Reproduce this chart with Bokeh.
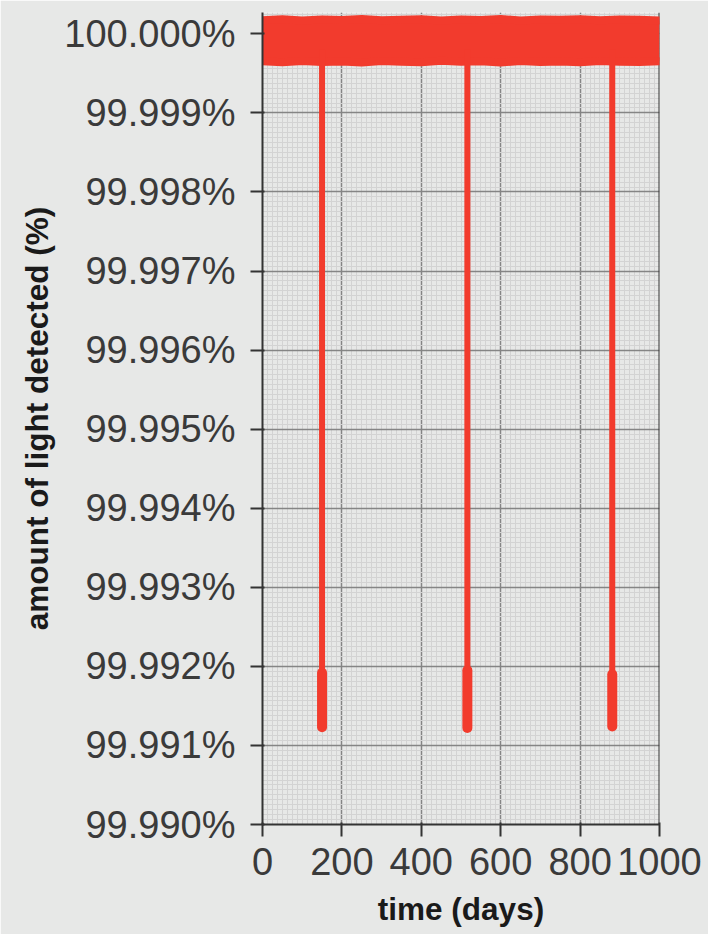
from bokeh.plotting import figure
from bokeh.models import Range1d, FixedTicker, PrintfTickFormatter, Span
from bokeh.embed import file_html
from bokeh.resources import INLINE

# ---- data ----
band_days = [0, 50, 100, 150, 200, 250, 300, 350, 400, 450, 500,
             550, 600, 650, 700, 750, 800, 850, 900, 950, 1000]
band_upper = [100.000172, 100.000184, 100.000169, 100.000181, 100.000176, 100.000188, 100.000171,
              100.000179, 100.000185, 100.000168, 100.000182, 100.000175, 100.000187, 100.000170,
              100.000180, 100.000177, 100.000186, 100.000173, 100.000183, 100.000178, 100.000170]
band_lower = [99.999652, 99.999640, 99.999658, 99.999645, 99.999650, 99.999637, 99.999655,
              99.999648, 99.999642, 99.999660, 99.999646, 99.999653, 99.999639, 99.999657,
              99.999644, 99.999651, 99.999641, 99.999656, 99.999647, 99.999643, 99.999654]

transit_days = [150, 516, 881]
transit_start = [99.99980, 99.99980, 99.99980]
transit_blob_top = [99.99192, 99.99195, 99.99190]
transit_floor = [99.99123, 99.99122, 99.99124]

x_ticks = [0, 200, 400, 600, 800, 1000]
x_minor = [i * 12.5 for i in range(81)]
y_ticks = [round(99.990 + i * 0.001, 3) for i in range(11)]
y_minor = [round(99.990 + i * 0.0000625, 7) for i in range(165)]

BG = "#e7e8e7"
RED = "#f23b2d"
DARK = "#333333"

p = figure(width=708, height=934, output_backend="svg", toolbar_location=None,
           x_range=Range1d(0, 1000), y_range=Range1d(99.990, 100.00027),
           min_border_left=262, min_border_right=49, min_border_top=12, min_border_bottom=110)
p.background_fill_color = BG
p.border_fill_color = BG
p.outline_line_color = None

# band of noisy measurements near 100%
p.varea(x=band_days, y1=band_lower, y2=band_upper, fill_color=RED)
p.line(band_days, band_upper, line_color=RED, line_width=8, line_cap="round", line_join="round")
p.line(band_days, band_lower, line_color=RED, line_width=8, line_cap="round", line_join="round")

# transits
p.segment(x0=transit_days, y0=transit_start, x1=transit_days, y1=transit_floor,
          line_color=RED, line_width=6)
p.segment(x0=transit_days, y0=transit_blob_top, x1=transit_days, y1=transit_floor,
          line_color=RED, line_width=10, line_cap="round")

# right border
right = Span(location=1000, dimension="height", line_color=DARK, line_width=2, level="underlay")
p.add_layout(right)

p.xaxis.ticker = FixedTicker(ticks=x_ticks, minor_ticks=x_minor)
p.yaxis.ticker = FixedTicker(ticks=y_ticks, minor_ticks=y_minor)
p.yaxis.formatter = PrintfTickFormatter(format="%.3f%%")

for g in (p.xgrid, p.ygrid):
    g.grid_line_color = "#858585"
    g.grid_line_width = 1.5
    g.minor_grid_line_color = "#d3d3d3"
    g.minor_grid_line_width = 1

for ax in (p.xaxis, p.yaxis):
    ax.axis_line_color = DARK
    ax.axis_line_width = 2
    ax.major_tick_line_color = DARK
    ax.major_tick_line_width = 2
    ax.major_tick_in = 2
    ax.major_tick_out = 12
    ax.minor_tick_line_color = None
    ax.major_label_text_font = "Liberation Sans"
    ax.major_label_text_font_size = "38px"
    ax.major_label_text_color = "#3a3a3a"
    ax.axis_label_text_font = "Liberation Sans"
    ax.axis_label_text_font_style = "bold"
    ax.axis_label_text_font_size = "31.5px"
    ax.axis_label_text_color = "#1a1a1a"

p.xaxis.axis_label = "time (days)"
p.yaxis.axis_label = "amount of light detected (%)"
p.yaxis.major_label_standoff = 15
p.yaxis.axis_label_standoff = 6
p.xaxis.major_label_standoff = 11
p.xaxis.axis_label_standoff = 13

open("out.html", "w").write(file_html(p, INLINE))
